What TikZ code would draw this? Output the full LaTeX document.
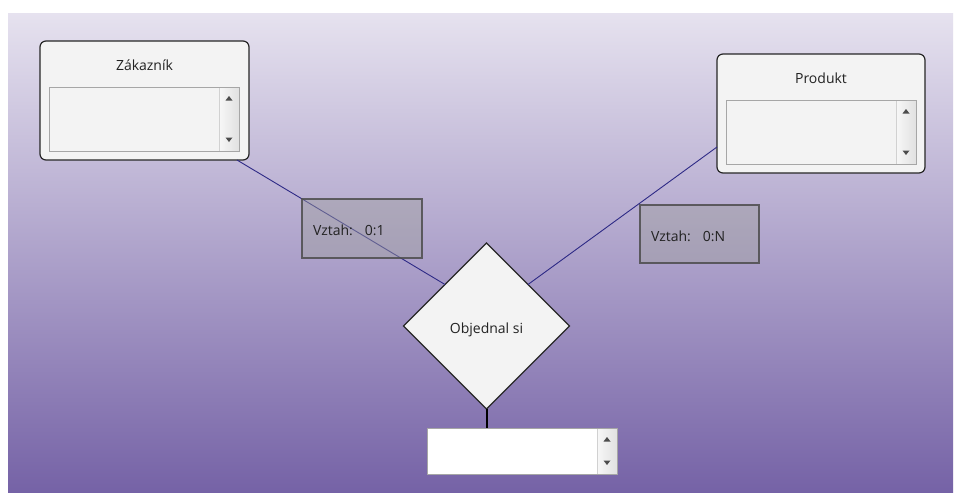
\documentclass[tikz,border=0pt]{standalone}
\usepackage{fontspec}
\setmainfont{Open Sans}
\usetikzlibrary{shapes.geometric,calc}
\definecolor{bgtop}{HTML}{E6E2EF}
\definecolor{bgbot}{HTML}{7562A6}
\definecolor{navy}{HTML}{2E2A86}
\definecolor{panel}{HTML}{F3F3F3}
\definecolor{ink}{HTML}{222222}
\tikzset{
  every node/.style={inner sep=0pt, outer sep=0pt, font=\fontsize{14}{16}\selectfont, text=ink},
  entity/.style={draw=black!85, line width=1.2pt, fill=panel, rounded corners=6pt, minimum width=#1pt, minimum height=119pt},
  listbox/.style={draw=black!35, line width=0.8pt, fill=panel},
  relbox/.style={draw=black!70, draw opacity=0.85, line width=1.2pt, fill=gray!75, fill opacity=0.45, text opacity=1,
                 align=left, inner xsep=11pt},
  relation/.style={diamond, aspect=1, draw=black!85, line width=1.1pt, fill=panel, minimum size=166pt},
  link/.style={draw=navy, line width=0.9pt},
  scrolltrack/.style={left color=white!97!black, right color=white!88!black, draw=black!18, line width=0.6pt},
  scrollarrow/.style={fill=black!70},
}
% scroll bar on the right side of a list box node
\newcommand\scrollbarfor[1]{%
  \draw[scrolltrack] ([xshift=-20pt]#1.north east) rectangle (#1.south east);
  \fill[scrollarrow] ([xshift=-10pt,yshift=-9pt]#1.north east) -- ++(-3.5,4.5) -- ++(7,0) -- cycle;
  \fill[scrollarrow] ([xshift=-10pt,yshift=9pt]#1.south east) -- ++(-3.5,-4.5) -- ++(7,0) -- cycle;
  \draw[black!35, line width=0.8pt] (#1.north west) rectangle (#1.south east);
}
% lower a text inside its node without changing the node's size
\newcommand\lowertext[2]{\raisebox{-#1}[\height][\depth]{#2}}
\begin{document}
\begin{tikzpicture}[x=1pt, y=-1pt]
  \useasboundingbox (0,0) rectangle (954,493);
  \fill[white] (0,0) rectangle (954,493);
  % canvas
  \shade[top color=bgtop, bottom color=bgbot] (8,13) rectangle (953,493);

  % entities
  \node[entity=209] (zak) at (144.5,100.5) {};
  \node (zaktitle) at (144.5,65) {Zákazník};
  \node[listbox, minimum width=190pt, minimum height=64pt] (zaklist) at (144,119) {};
  \scrollbarfor{zaklist}

  \node[entity=208] (prod) at (821,113.5) {};
  \node (prodtitle) at (821,78) {Produkt};
  \node[listbox, minimum width=190pt, minimum height=64pt] (prodlist) at (821,132) {};
  \scrollbarfor{prodlist}

  % relationship
  \node[relation] (rel) at (486.5,326) {\lowertext{4pt}{Objednal si}};
  \coordinate (zakend) at ([xshift=-12pt]zak.south east);
  \coordinate (prodend) at ([yshift=26pt]prod.south west);
  \draw[link] (zakend) -- (rel.north west);
  \draw[link] (prodend) -- (rel.north east);

  % cardinality labels
  \node[relbox, text width=98pt, minimum height=59pt] (card1) at (362,228.5) {\lowertext{2pt}{Vztah:\hspace{12pt}0:1}};
  \node[relbox, text width=97pt, minimum height=58pt] (card2) at (699.5,234) {\lowertext{2pt}{Vztah:\hspace{12pt}0:N}};

  % attribute list under the relationship
  \node[fill=white, minimum width=190pt, minimum height=46pt] (attr) at (522,451) {};
  \scrollbarfor{attr}
  \draw[black, line width=2pt] (rel.south) -- (attr.north -| rel.south);
\end{tikzpicture}
\end{document}
